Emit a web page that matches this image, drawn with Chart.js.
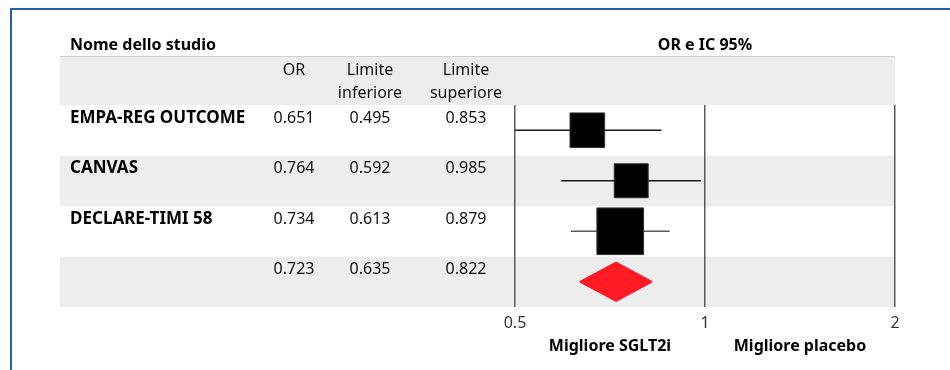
<!DOCTYPE html>
<html>
<head>
<meta charset="utf-8">
<script src="https://cdn.jsdelivr.net/npm/chart.js@4/dist/chart.umd.min.js"></script>
<style>
  html, body { margin: 0; padding: 0; background: #fff; overflow: hidden; }
  #wrap { position: relative; width: 950px; height: 370px; }
  #frame { position: absolute; left: 10px; top: 8px; width: 980px; height: 400px;
           border-left: 2px solid #1f63a9; border-top: 2px solid #1f63a9; }
  canvas { position: absolute; left: 0; top: 0; }
</style>
</head>
<body>
<div id="wrap">
  <div id="frame"></div>
  <canvas id="forest" width="950" height="370"></canvas>
</div>
<script>
// Study rows (the last row is the pooled estimate, drawn as a diamond)
const studies  = ['EMPA-REG OUTCOME', 'CANVAS', 'DECLARE-TIMI 58', ''];
const oddsRatio = [0.651, 0.764, 0.734, 0.723];
const lowerCI   = [0.495, 0.592, 0.613, 0.635];
const upperCI   = [0.853, 0.985, 0.879, 0.822];
const tickValues = [0.5, 1, 2];

const FONT = '"Noto Sans", Lato, sans-serif';
const fmt = v => v.toFixed(3);
const pooled = studies.length - 1;

function draw() {
  const rowCenter = i => i + 0.5;

  // whisker for each individual study
  const whiskerColors = ['#1a1a1a', '#1a1a1a', '#5a5a5a'];
  const whiskers = [];
  for (let i = 0; i < pooled; i++) {
    whiskers.push({
      type: 'scatter',
      showLine: true,
      data: [{ x: lowerCI[i], y: rowCenter(i) }, { x: upperCI[i], y: rowCenter(i) }],
      borderColor: whiskerColors[i],
      borderWidth: 1.6,
      pointRadius: 0,
      order: 2
    });
  }

  const squares = {
    type: 'scatter',
    data: oddsRatio.slice(0, pooled).map((v, i) => ({ x: v, y: rowCenter(i) })),
    pointStyle: 'rect',
    pointRadius: [24.5, 24, 33],
    backgroundColor: '#000',
    borderColor: '#333',
    borderWidth: 1,
    order: 1
  };

  const tablePlugin = {
    id: 'forestTable',
    beforeDraw(chart) {
      const { ctx, chartArea: ca, scales: { y } } = chart;
      const left = 60, right = ca.right;
      ctx.save();
      // header band
      ctx.fillStyle = '#ededed';
      ctx.fillRect(left, 56, right - left, ca.top - 56);
      ctx.fillStyle = '#cfcfcf';
      ctx.fillRect(left, 56, right - left, 1);
      // alternating row bands
      ctx.fillStyle = '#ededed';
      studies.forEach((s, i) => {
        if (i % 2 === 1) {
          const t = y.getPixelForValue(i), b = y.getPixelForValue(i + 1);
          ctx.fillRect(left, t, right - left, b - t);
        }
      });
      ctx.restore();
    },
    afterDatasetsDraw(chart) {
      const { ctx, scales: { x, y } } = chart;
      ctx.save();
      // pooled estimate diamond
      const cy = y.getPixelForValue(rowCenter(pooled));
      const h = 19;
      ctx.beginPath();
      ctx.moveTo(x.getPixelForValue(lowerCI[pooled]), cy);
      ctx.lineTo(x.getPixelForValue(oddsRatio[pooled]), cy - h);
      ctx.lineTo(x.getPixelForValue(upperCI[pooled]), cy);
      ctx.lineTo(x.getPixelForValue(oddsRatio[pooled]), cy + h);
      ctx.closePath();
      ctx.fillStyle = '#ff1a24';
      ctx.strokeStyle = '#ff1a24';
      ctx.lineJoin = 'round';
      ctx.lineWidth = 2;
      ctx.fill();
      ctx.stroke();
      ctx.restore();
    },
    afterDraw(chart) {
      const { ctx, chartArea: ca, scales: { x, y } } = chart;
      const colOR = 294, colLo = 370, colHi = 466, colName = 70;
      ctx.save();
      ctx.textBaseline = 'middle';
      ctx.fillStyle = '#000';

      // titles
      ctx.font = 'bold 16px ' + FONT;
      ctx.textAlign = 'left';
      ctx.fillText('Nome dello studio', colName, 45);
      ctx.textAlign = 'center';
      ctx.fillText('OR e IC 95%', (ca.left + ca.right) / 2, 45);

      // column headers
      ctx.font = '16px ' + FONT;
      ctx.fillStyle = '#111';
      ctx.fillText('OR', colOR, 70);
      ctx.fillText('Limite', colLo, 70);
      ctx.fillText('inferiore', colLo, 93);
      ctx.fillText('Limite', colHi, 70);
      ctx.fillText('superiore', colHi, 93);

      // rows
      studies.forEach((name, i) => {
        const ty = y.getPixelForValue(i) + 13;
        ctx.font = 'bold 17px ' + FONT;
        ctx.textAlign = 'left';
        ctx.fillStyle = '#000';
        if (name) ctx.fillText(name, colName, ty);
        ctx.font = '16px ' + FONT;
        ctx.textAlign = 'center';
        ctx.fillStyle = '#111';
        ctx.fillText(fmt(oddsRatio[i]), colOR, ty);
        ctx.fillText(fmt(lowerCI[i]), colLo, ty);
        ctx.fillText(fmt(upperCI[i]), colHi, ty);
      });

      // direction labels under the axis
      ctx.font = 'bold 16px ' + FONT;
      ctx.fillStyle = '#000';
      const mid1 = x.getPixelForValue(Math.sqrt(tickValues[0] * tickValues[1]));
      const mid2 = x.getPixelForValue(Math.sqrt(tickValues[1] * tickValues[2]));
      ctx.fillText('Migliore SGLT2i', mid1, 346);
      ctx.fillText('Migliore placebo', mid2, 346);
      ctx.restore();
    }
  };

  new Chart(document.getElementById('forest'), {
    data: { datasets: [...whiskers, squares] },
    options: {
      responsive: false,
      animation: false,
      events: [],
      layout: { padding: { left: 515, right: 55, top: 105, bottom: 23 } },
      plugins: { legend: { display: false }, tooltip: { enabled: false } },
      scales: {
        x: {
          type: 'logarithmic',
          min: tickValues[0],
          max: tickValues[tickValues.length - 1],
          afterBuildTicks: s => { s.ticks = tickValues.map(v => ({ value: v })); },
          afterFit: s => { s.height = 40; },
          ticks: {
            callback: v => String(v),
            autoSkip: false,
            maxRotation: 0,
            color: '#333',
            padding: 7,
            font: { family: FONT, size: 16 }
          },
          grid: { color: '#5a5a5a', lineWidth: 1.5, drawTicks: false },
          border: { display: false }
        },
        y: { type: 'linear', min: 0, max: studies.length, reverse: true, display: false }
      }
    },
    plugins: [tablePlugin]
  });
}

Promise.all([
  document.fonts.load('16px "Noto Sans"'),
  document.fonts.load('bold 16px "Noto Sans"')
]).then(draw, draw);
</script>
</body>
</html>
